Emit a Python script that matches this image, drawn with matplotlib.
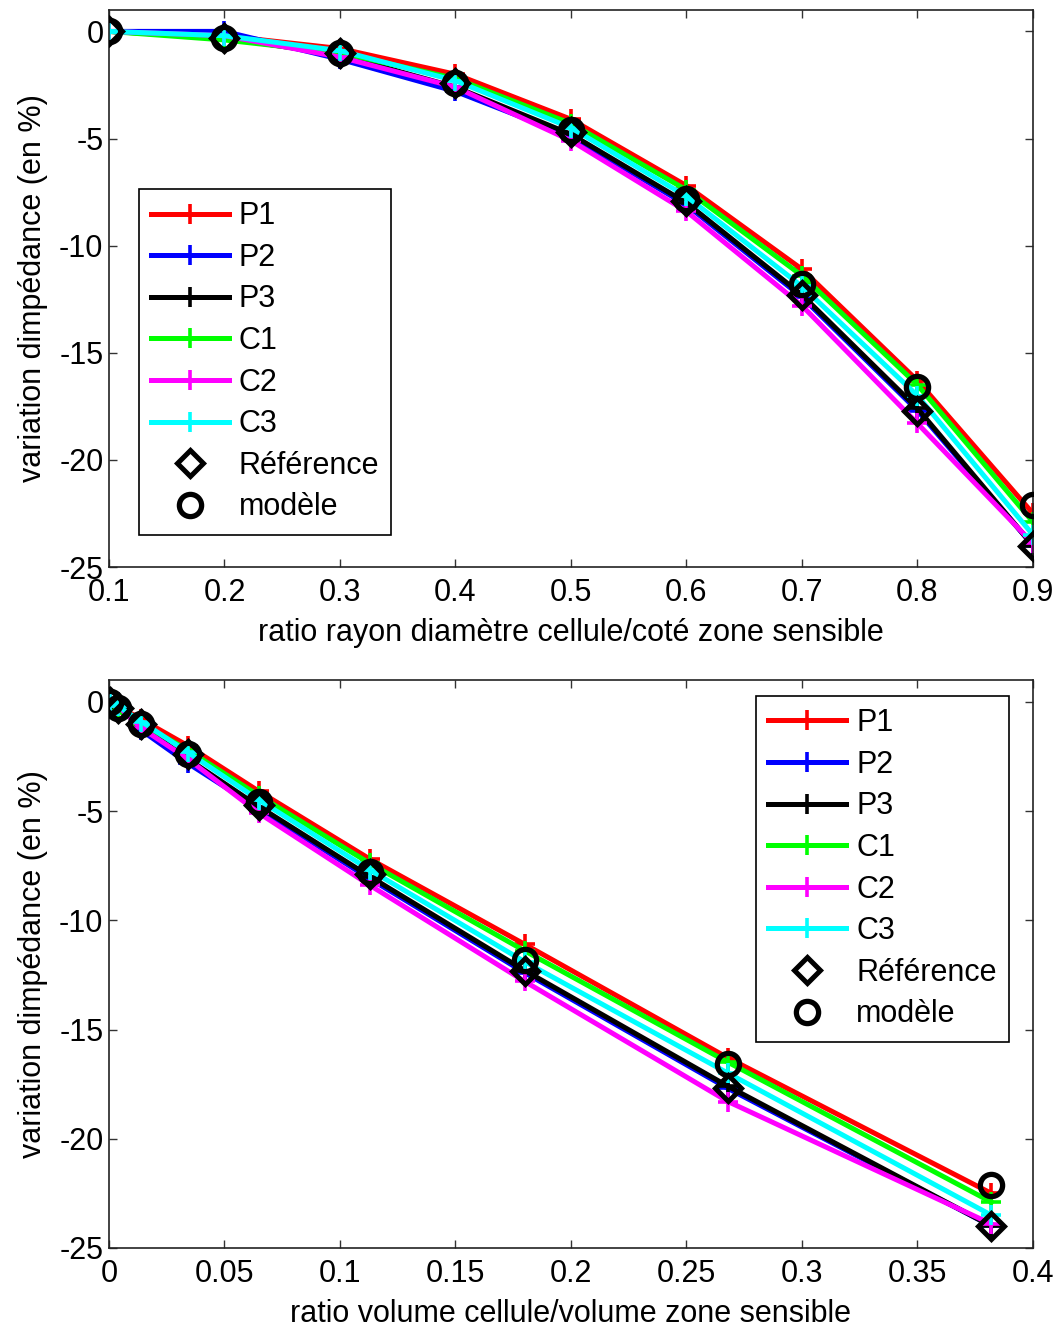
import matplotlib
matplotlib.use("Agg")
import matplotlib.pyplot as plt

plt.rcParams['font.family'] = ['Liberation Sans', 'DejaVu Sans']
plt.rcParams['axes.unicode_minus'] = False

# Data
ratio_rayon = [0.1, 0.2, 0.3, 0.4, 0.5, 0.6, 0.7, 0.8, 0.9]
ratio_volume = [0.0005, 0.004, 0.014, 0.034, 0.065, 0.113, 0.180, 0.268, 0.382]

P1 = [0, -0.2, -0.8, -2.0, -4.1, -7.2, -11.1, -16.3, -22.5]
P2 = [0, 0.0, -1.3, -2.8, -4.9, -8.1, -12.4, -17.7, -24.0]
P3 = [0, -0.3, -1.1, -2.6, -4.8, -8.0, -12.3, -17.6, -24.0]
C1 = [0, -0.4, -1.0, -2.2, -4.3, -7.4, -11.4, -16.5, -22.9]
C2 = [0, -0.2, -1.2, -2.6, -5.1, -8.4, -12.8, -18.3, -23.9]
C3 = [0, -0.2, -0.9, -2.3, -4.5, -7.7, -11.9, -17.0, -23.5]
reference = [0, -0.3, -1.0, -2.4, -4.7, -7.9, -12.3, -17.7, -24.0]
modele = [0, -0.3, -1.0, -2.4, -4.6, -7.8, -11.8, -16.6, -22.1]

series_names = ['P1', 'P2', 'P3', 'C1', 'C2', 'C3']
series_values = [P1, P2, P3, C1, C2, C3]
series_colors = ['#ff0000', '#0000ff', '#000000', '#00ff00', '#ff00ff', '#00ffff']

yticks = [0, -5, -10, -15, -20, -25]
xticks_top = [0.1, 0.2, 0.3, 0.4, 0.5, 0.6, 0.7, 0.8, 0.9]
xticklabels_top = ['0.1', '0.2', '0.3', '0.4', '0.5', '0.6', '0.7', '0.8', '0.9']
xticks_bot = [0, 0.05, 0.1, 0.15, 0.2, 0.25, 0.3, 0.35, 0.4]
xticklabels_bot = ['0', '0.05', '0.1', '0.15', '0.2', '0.25', '0.3', '0.35', '0.4']

xlabel_top = 'ratio rayon diamètre cellule/coté zone sensible'
xlabel_bot = 'ratio volume cellule/volume zone sensible'
ylabel = 'variation dimpédance (en %)'

fig = plt.figure(figsize=(10.59, 13.31), dpi=100)
ax1 = fig.add_axes([0.1029, 0.574, 0.8725, 0.4185])
ax2 = fig.add_axes([0.1029, 0.0624, 0.8725, 0.4267])

FS = 22

def draw(ax, x, xlim, xticks, xticklabels, xlabel, legend_kw):
    for name, vals, col in zip(series_names, series_values, series_colors):
        ax.plot(x, vals, color=col, lw=3.6, marker='+', ms=15, mew=2.6, label=name, zorder=2)
    ax.plot(x, reference, ls='none', marker='D', ms=13.5, mfc='none', mec='black', mew=3.6,
            label='Référence', zorder=3)
    ax.plot(x, modele, ls='none', marker='o', ms=16, mfc='none', mec='black', mew=3.8,
            label='modèle', zorder=3)
    ax.set_xlim(*xlim)
    ax.set_ylim(-25, 1)
    ax.set_xticks(xticks)
    ax.set_xticklabels(xticklabels)
    ax.set_yticks(yticks)
    ax.set_yticklabels([str(v) for v in yticks])
    ax.tick_params(direction='in', length=6, width=1, top=True, right=True,
                   labelsize=FS, color='#333333')
    ax.tick_params(axis='x', pad=8)
    ax.tick_params(axis='y', pad=4)
    for s in ax.spines.values():
        s.set_linewidth(1.2)
        s.set_color('#222222')
    ax.set_xlabel(xlabel, fontsize=FS, labelpad=7)
    ax.set_ylabel(ylabel, fontsize=FS, labelpad=8)
    leg = ax.legend(fontsize=FS, frameon=True, fancybox=False, edgecolor='black',
                    framealpha=1, handlelength=2.55, handletextpad=0.33,
                    labelspacing=0.38, borderpad=0.4, borderaxespad=0,
                    **legend_kw)
    leg.get_frame().set_linewidth(1.2)

draw(ax1, ratio_rayon, (0.1, 0.9), xticks_top, xticklabels_top, xlabel_top,
     dict(loc='lower left', bbox_to_anchor=(0.032, 0.058)))
draw(ax2, ratio_volume, (0, 0.4), xticks_bot, xticklabels_bot, xlabel_bot,
     dict(loc='upper right', bbox_to_anchor=(0.974, 0.972)))

fig.savefig('out.png', dpi=100)
